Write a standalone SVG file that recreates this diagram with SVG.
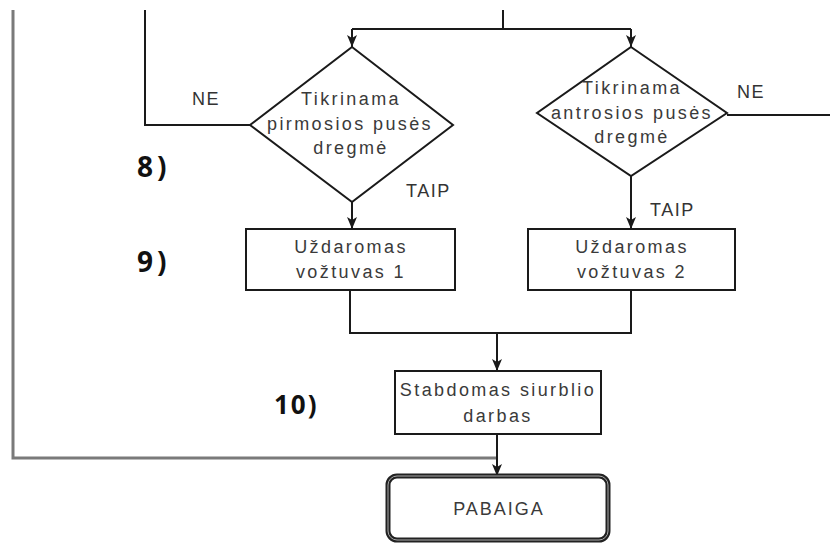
<svg xmlns="http://www.w3.org/2000/svg" width="830" height="544" viewBox="0 0 830 544">
<defs>
<style>
.ln{fill:none;stroke:#1a1a1a;stroke-width:2}
.gr{fill:none;stroke:#7a7a7a;stroke-width:3}
.sh{fill:#fff;stroke:#1a1a1a;stroke-width:2}
.t{font-family:"Liberation Sans",Arial,sans-serif;font-size:18px;letter-spacing:2.4px;fill:#3a3a3a;text-anchor:middle}
.lb{font-family:"Liberation Sans",Arial,sans-serif;font-size:18px;letter-spacing:1.5px;fill:#333}
.num{font-family:"Open Sans","Liberation Sans",sans-serif;font-size:26px;letter-spacing:2px;font-weight:bold;fill:#111}
</style>
<marker id="ah" viewBox="0 0 12 10" refX="12" refY="5" markerWidth="12" markerHeight="10" markerUnits="userSpaceOnUse" orient="auto">
<path d="M0,0 L3,5 L0,10 L12,5 Z" fill="#1a1a1a"/>
</marker>
</defs>
<g id="connectors">
<path class="gr" d="M13,10 V458 H497"/>
<path class="ln" d="M145,10 V125 H250"/>
<path class="ln" d="M503,10 V29"/>
<path class="ln" d="M352,29 H631"/>
<path class="ln" d="M352,29 V47" marker-end="url(#ah)"/>
<path class="ln" d="M631,29 V47" marker-end="url(#ah)"/>
<path class="ln" d="M727,115 H830"/>
<path class="ln" d="M352,202 V229" marker-end="url(#ah)"/>
<path class="ln" d="M631,176 V229" marker-end="url(#ah)"/>
<path class="ln" d="M350,290 V333 H631 V290"/>
<path class="ln" d="M497,333 V371" marker-end="url(#ah)"/>
<path class="ln" d="M497,434 V476" marker-end="url(#ah)"/>
<text class="lb" x="192" y="105">NE</text>
<text class="lb" x="737" y="98">NE</text>
<text class="lb" x="406" y="197">TAIP</text>
<text class="lb" x="650" y="216">TAIP</text>
</g>
<g id="d1">
<polygon class="sh" points="352,47 453,125 352,202 250,125"/>
<text class="t" x="351" y="105">Tikrinama</text>
<text class="t" x="350" y="130">pirmosios pusės</text>
<text class="t" x="351" y="154">dregmė</text>
</g>
<g id="d2">
<polygon class="sh" points="631,47 727,113 631,176 537,113"/>
<text class="t" x="632" y="94">Tikrinama</text>
<text class="t" x="632" y="119">antrosios pusės</text>
<text class="t" x="632" y="143">dregmė</text>
</g>
<g id="b1">
<rect class="sh" x="246" y="229" width="209" height="61"/>
<text class="t" x="351" y="253">Uždaromas</text>
<text class="t" x="351" y="278">vožtuvas 1</text>
</g>
<g id="b2">
<rect class="sh" x="528" y="229" width="207" height="61"/>
<text class="t" x="632" y="253">Uždaromas</text>
<text class="t" x="632" y="278">vožtuvas 2</text>
</g>
<g id="b3">
<rect class="sh" x="395" y="371" width="206" height="63"/>
<text class="t" x="498" y="396">Stabdomas siurblio</text>
<text class="t" x="498" y="422">darbas</text>
</g>
<g id="end">
<rect x="388" y="476" width="220" height="64" rx="9" fill="#fff" stroke="#222" stroke-width="5"/>
<rect x="388" y="476" width="220" height="64" rx="9" fill="none" stroke="#aaa" stroke-width="1"/>
<text class="t" x="499" y="515" style="letter-spacing:2px">PABAIGA</text>
</g>
<g id="steps">
<text class="num" x="137" y="177" style="font-size:28px;letter-spacing:4px">8)</text>
<text class="num" x="137" y="272" style="font-size:28px;letter-spacing:4px">9)</text>
<text class="num" x="274" y="414">10)</text>
</g>
</svg>
